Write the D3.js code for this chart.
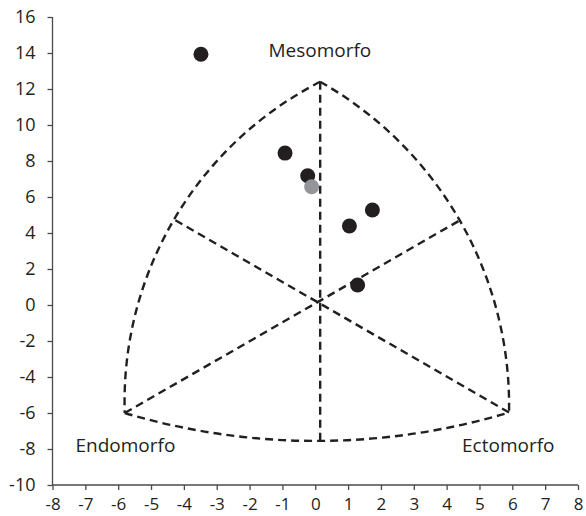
<!DOCTYPE html>
<html><head><meta charset="utf-8">
<script src="https://cdn.jsdelivr.net/npm/d3@7"></script>
<style>body{margin:0;background:#fff}svg{display:block}</style>
</head><body>
<svg id="c" width="586" height="516"></svg>
<script>
// data
const xTicks = [-8,-7,-6,-5,-4,-3,-2,-1,0,1,2,3,4,5,6,7,8];
const yTicks = [-10,-8,-6,-4,-2,0,2,4,6,8,10,12,14,16];
const subjX = [-3.48, -0.92, -0.23, 1.74, 1.04, 1.29];
const subjY = [13.93, 8.44, 7.18, 5.28, 4.39, 1.11];
const meanX = [-0.11];
const meanY = [6.57];
// somatochart frame (data coords)
const frameApex = [0.15, 12.4];
const frameEndo = [-5.8, -6.0];
const frameEcto = [5.9, -5.97];
const frameBottom = [0.15, -7.55];
const frameLeftMid = [-4.3, 4.75];
const frameRightMid = [4.4, 4.7];
const labels = ["Mesomorfo", "Endomorfo", "Ectomorfo"];
const labelPos = [[0.14, 13.8], [-7.3, -8.17], [4.47, -8.17]];

const svg = d3.select("#c");
const x = d3.scaleLinear().domain([-8, 8]).range([52.5, 578]);
const y = d3.scaleLinear().domain([-10, 16]).range([485, 17]);
const ink = "#231f20";
const font = "'Open Sans', sans-serif";

const gx = svg.append("g").attr("transform", `translate(0,${y(-10)})`)
  .call(d3.axisBottom(x).tickValues(xTicks).tickSize(5).tickPadding(8).tickFormat(d3.format("d")));
const gy = svg.append("g").attr("transform", `translate(${x(-8)},0)`)
  .call(d3.axisLeft(y).tickValues(yTicks).tickSize(5).tickPadding(12).tickFormat(d3.format("d")));
[gx, gy].forEach(g => {
  g.select(".domain").attr("stroke", "#4a4a4a").attr("stroke-width", 1.3);
  g.selectAll(".tick line").attr("stroke", "#4a4a4a").attr("stroke-width", 1.3);
  g.selectAll("text").attr("fill", ink).attr("font-family", font).attr("font-size", 18)
    .text(function(){ return this.textContent.replace("−", "-"); });
});
gx.selectAll("text").attr("font-size", 17);
gx.select(".domain").attr("d", `M${x(-8)},0H${x(8)}`);
gy.select(".domain").attr("d", `M0,${y(16)}V${y(-10)}`);

const P = p => [x(p[0]), y(p[1])];
function arcPath(a, m, b) {
  const [x1,y1]=a,[x2,y2]=m,[x3,y3]=b;
  const d = 2*(x1*(y2-y3)+x2*(y3-y1)+x3*(y1-y2));
  const ux = ((x1*x1+y1*y1)*(y2-y3)+(x2*x2+y2*y2)*(y3-y1)+(x3*x3+y3*y3)*(y1-y2))/d;
  const uy = ((x1*x1+y1*y1)*(x3-x2)+(x2*x2+y2*y2)*(x1-x3)+(x3*x3+y3*y3)*(x2-x1))/d;
  const r = Math.hypot(x1-ux, y1-uy);
  const cross = (x2-x1)*(y3-y2)-(y2-y1)*(x3-x2);
  return `M${x1},${y1}A${r},${r} 0 0 ${cross>0?1:0} ${x3},${y3}`;
}
const frame = svg.append("g").attr("fill", "none").attr("stroke", ink)
  .attr("stroke-width", 2.4).attr("stroke-dasharray", "8,5");
frame.append("path").attr("d", arcPath(P(frameApex), P(frameLeftMid), P(frameEndo)));
frame.append("path").attr("d", arcPath(P(frameApex), P(frameRightMid), P(frameEcto)));
frame.append("path").attr("d", arcPath(P(frameEndo), P(frameBottom), P(frameEcto)));
[[frameApex, frameBottom], [frameEndo, frameRightMid], [frameEcto, frameLeftMid]].forEach(([a,b]) => {
  frame.append("line").attr("x1", x(a[0])).attr("y1", y(a[1])).attr("x2", x(b[0])).attr("y2", y(b[1]));
});

svg.append("g").selectAll("circle").data(subjX.map((v,i)=>[v, subjY[i]])).join("circle")
  .attr("cx", d=>x(d[0])).attr("cy", d=>y(d[1])).attr("r", 7.5).attr("fill", ink);
svg.append("g").selectAll("circle").data(meanX.map((v,i)=>[v, meanY[i]])).join("circle")
  .attr("cx", d=>x(d[0])).attr("cy", d=>y(d[1])).attr("r", 7.5).attr("fill", "#939598");

svg.append("g").selectAll("text").data(labels).join("text")
  .attr("x", (d,i)=>x(labelPos[i][0])).attr("y", (d,i)=>y(labelPos[i][1]))
  .attr("text-anchor", (d,i)=> i===0 ? "middle" : "start")
  .attr("font-family", font).attr("font-size", 19).attr("fill", ink).text(d=>d);
</script>
</body></html>
